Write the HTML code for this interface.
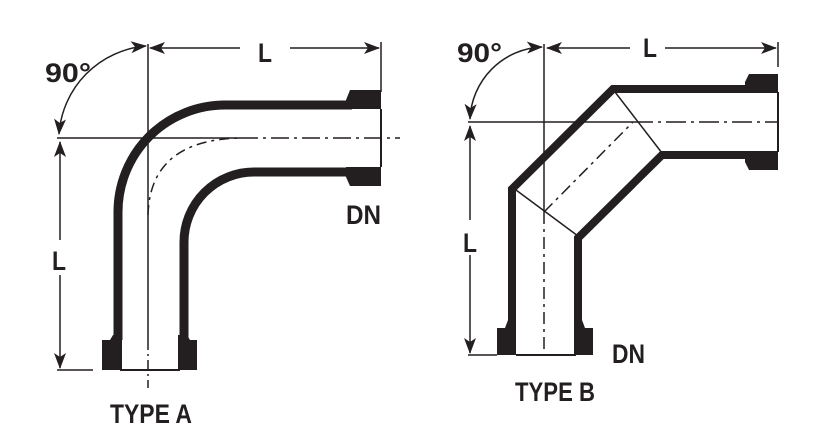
<!DOCTYPE html>
<html><head><meta charset="utf-8"><style>
html,body{margin:0;padding:0;background:#fff}
svg{display:block}
text{font-family:"Liberation Sans",sans-serif;fill:#231f20;font-weight:bold}
</style></head><body>
<svg width="817" height="441" viewBox="0 0 817 441" xmlns="http://www.w3.org/2000/svg">
<defs>
<marker id="ar" viewBox="0 0 16 12" refX="15" refY="6" markerWidth="16" markerHeight="12" markerUnits="userSpaceOnUse" orient="auto-start-reverse">
<path d="M0,0 L16,6 L0,12 L4,6 Z" fill="#231f20"/>
</marker>
</defs>
<g stroke="#231f20" fill="none">
<!-- TYPE A -->
<line x1="148" y1="44" x2="148" y2="340" stroke-width="1.5"/>
<line x1="148" y1="340" x2="148" y2="388" stroke-width="1.5" stroke-dasharray="10,4,2,4"/>
<line x1="57" y1="138" x2="240" y2="138" stroke-width="1.5"/>
<line x1="240" y1="138" x2="400" y2="138" stroke-width="1.5" stroke-dasharray="18,5,3,5"/>
<path d="M148,215 Q150,140 240,138" stroke-width="1.5" stroke-dasharray="10,5,3,5"/>
<line x1="240" y1="48" x2="150" y2="48" stroke-width="1.5" marker-end="url(#ar)"/>
<line x1="290" y1="48" x2="379" y2="48" stroke-width="1.5" marker-end="url(#ar)"/>
<line x1="381" y1="42" x2="381" y2="92" stroke-width="1.5"/>
<line x1="60" y1="240" x2="60" y2="142" stroke-width="1.5" marker-end="url(#ar)"/>
<line x1="60" y1="275" x2="60" y2="368" stroke-width="1.5" marker-end="url(#ar)"/>
<line x1="57" y1="370" x2="93" y2="370" stroke-width="1.5"/>
<path d="M146,46 A95,95 0 0 0 59,134" stroke-width="1.5" marker-start="url(#ar)" marker-end="url(#ar)"/>
<!-- pipe A walls -->
<path d="M118,340 L118,212 A107,107 0 0 1 225,105 L352,105" stroke-width="9"/>
<path d="M184,340 L184,242 A70,70 0 0 1 254,172 L352,172" stroke-width="9"/>
<line x1="381" y1="109" x2="381" y2="167" stroke-width="2"/>
<line x1="120" y1="370" x2="180" y2="370" stroke-width="2"/>
<!-- TYPE B -->
<line x1="544" y1="44" x2="544" y2="212" stroke-width="1.5"/>
<line x1="544" y1="212" x2="544" y2="355" stroke-width="1.5" stroke-dasharray="12,5,3,5"/>
<line x1="468" y1="122" x2="633" y2="122" stroke-width="1.5"/>
<line x1="633" y1="122" x2="778" y2="122" stroke-width="1.5" stroke-dasharray="20,5,3,5"/>
<line x1="544" y1="212" x2="633" y2="122" stroke-width="1.5" stroke-dasharray="12,5,3,5"/>
<line x1="615" y1="92" x2="662" y2="153" stroke-width="1.5"/>
<line x1="516" y1="190" x2="578" y2="236" stroke-width="1.5"/>
<line x1="630" y1="48" x2="547" y2="48" stroke-width="1.5" marker-end="url(#ar)"/>
<line x1="665" y1="48" x2="776" y2="48" stroke-width="1.5" marker-end="url(#ar)"/>
<line x1="778" y1="42" x2="778" y2="67" stroke-width="1.5"/>
<line x1="470" y1="220" x2="470" y2="126" stroke-width="1.5" marker-end="url(#ar)"/>
<line x1="470" y1="255" x2="470" y2="353" stroke-width="1.5" marker-end="url(#ar)"/>
<line x1="468" y1="355" x2="497" y2="355" stroke-width="1.5"/>
<path d="M542,47 A75,75 0 0 0 470,119" stroke-width="1.5" marker-start="url(#ar)" marker-end="url(#ar)"/>
<path d="M512,325 L512,189 L613,89 L750,89" stroke-width="8" stroke-linejoin="miter"/>
<path d="M578,325 L578,238 L662,155 L750,155" stroke-width="8" stroke-linejoin="miter"/>
<line x1="778" y1="92" x2="778" y2="152" stroke-width="2"/>
<line x1="516" y1="355" x2="576" y2="355" stroke-width="2"/>
</g>
<g fill="#231f20">
<path d="M350,90 L381,90 L381,109 L346,109 L346,100 Z"/>
<path d="M346,167 L381,167 L381,186 L350,186 L346,177 Z"/>
<path d="M113,335 L122,335 L122,370 L102,370 L102,340 L110,340 Z"/>
<path d="M178,335 L187,335 L190,340 L197,340 L197,370 L178,370 Z"/>
<path d="M749,74 L778,74 L778,93 L745,93 L745,82 Z"/>
<path d="M745,151 L778,151 L778,170 L749,170 L745,162 Z"/>
<path d="M508,320 L516,320 L516,355 L497,355 L497,328 L505,328 Z"/>
<path d="M574,320 L582,320 L585,328 L593,328 L593,355 L574,355 Z"/>
</g>
<g font-size="27">
<text x="45" y="82" textLength="46" lengthAdjust="spacingAndGlyphs">90°</text>
<text x="258" y="62" textLength="14" lengthAdjust="spacingAndGlyphs">L</text>
<text x="52" y="270" textLength="14" lengthAdjust="spacingAndGlyphs">L</text>
<text x="346" y="224" textLength="35" lengthAdjust="spacingAndGlyphs">DN</text>
<text x="110" y="423" textLength="82" lengthAdjust="spacingAndGlyphs">TYPE A</text>
<text x="457" y="62" textLength="45" lengthAdjust="spacingAndGlyphs">90°</text>
<text x="643" y="57" textLength="14" lengthAdjust="spacingAndGlyphs">L</text>
<text x="463" y="252" textLength="14" lengthAdjust="spacingAndGlyphs">L</text>
<text x="612" y="363" textLength="33" lengthAdjust="spacingAndGlyphs">DN</text>
<text x="515" y="401" textLength="80" lengthAdjust="spacingAndGlyphs">TYPE B</text>
</g>
</svg>
</body></html>
